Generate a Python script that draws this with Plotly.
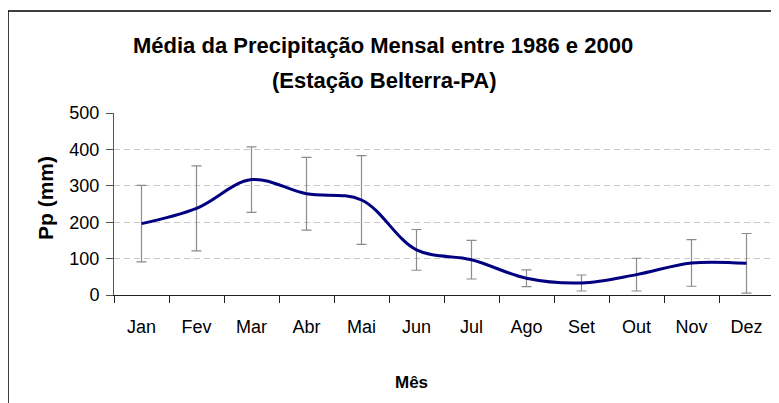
import plotly.graph_objects as go

# dados
meses = ['Jan', 'Fev', 'Mar', 'Abr', 'Mai', 'Jun', 'Jul', 'Ago', 'Set', 'Out', 'Nov', 'Dez']
media_pp = [196, 238, 317, 278, 261, 124, 97, 46, 33, 56, 88, 87]
desvio_pp = [105, 117, 90, 100, 122, 56, 53, 23, 22, 45, 64, 82]

fonte = 'Liberation Sans, Arial, sans-serif'

fig = go.Figure()
fig.add_trace(go.Scatter(
    x=meses,
    y=media_pp,
    mode='lines',
    line=dict(color='#000080', width=3, shape='spline'),
    error_y=dict(type='data', array=desvio_pp, visible=True,
                 color='#8c8c8c', thickness=1.2, width=5),
    showlegend=False
))

# -----------------------------
# layout: posições em pixels da tela
# (a página tem 8px de margem no body)
# -----------------------------
OFF = 8
W, H = 779, 403
x_esq, x_dir = 114, 774   # área do gráfico na tela
y_top, y_base = 113, 295

L = x_esq - OFF
R = W - (x_dir - OFF)
T = y_top - OFF
B = H - (y_base - OFF)
pw = x_dir - x_esq
ph = y_base - y_top


def px_x(p):
    return (p - x_esq) / pw


def px_y(p):
    return (y_base - p) / ph


fig.update_layout(
    width=W,
    height=H,
    margin=dict(l=L, r=R, t=T, b=B, autoexpand=False),
    paper_bgcolor='white',
    plot_bgcolor='white',
    font=dict(family=fonte, size=18, color='black'),
    xaxis=dict(
        type='category',
        range=[-0.5, len(meses) - 0.5],
        tickson='boundaries',
        ticks='outside',
        ticklen=7,
        tickcolor='#222',
        showline=True,
        linecolor='#222',
        showgrid=False,
        tickfont=dict(size=18),
        ticklabelstandoff=15,
    ),
    yaxis=dict(
        range=[0, 500],
        tickvals=[0, 100, 200, 300, 400, 500],
        ticks='outside',
        ticklen=7,
        tickcolor='#555',
        showline=True,
        linecolor='#555',
        showgrid=True,
        gridcolor='#c8c8c8',
        griddash='6px,4px',
        zeroline=False,
        tickfont=dict(size=18),
        ticklabelstandoff=3,
    ),
    annotations=[
        dict(text='<b>Média da Precipitação Mensal entre 1986 e 2000</b>',
             x=px_x(383), y=px_y(45), xref='paper', yref='paper',
             xanchor='center', yanchor='middle', showarrow=False,
             font=dict(size=22)),
        dict(text='<b>(Estação Belterra-PA)</b>',
             x=px_x(384), y=px_y(80), xref='paper', yref='paper',
             xanchor='center', yanchor='middle', showarrow=False,
             font=dict(size=22)),
        dict(text='<b>Mês</b>',
             x=px_x(411), y=px_y(382), xref='paper', yref='paper',
             xanchor='center', yanchor='middle', showarrow=False,
             font=dict(size=17)),
        dict(text='<b>Pp (mm)</b>', textangle=-90,
             x=px_x(45), y=px_y(198), xref='paper', yref='paper',
             xanchor='center', yanchor='middle', showarrow=False,
             font=dict(size=21)),
    ],
    shapes=[
        dict(type='rect', xref='paper', yref='paper',
             x0=px_x(OFF), x1=px_x(800), y0=px_y(11), y1=px_y(430),
             line=dict(color='black', width=1.5), fillcolor='rgba(0,0,0,0)',
             layer='below'),
    ],
)

fig.write_html('out.html')
